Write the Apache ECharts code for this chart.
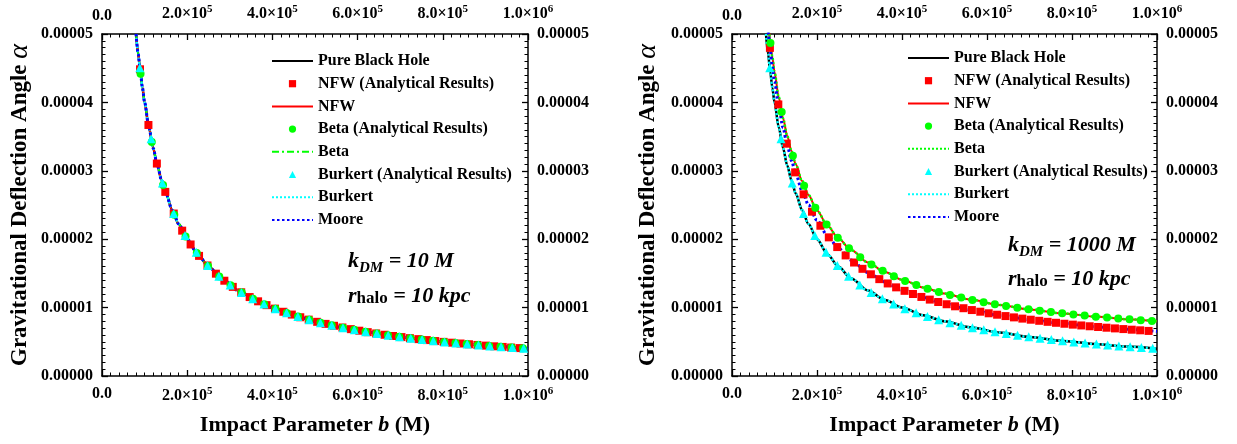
<!DOCTYPE html>
<html>
<head>
<meta charset="utf-8">
<script src="https://cdn.jsdelivr.net/npm/echarts@6/dist/echarts.min.js"></script>
<style>
  html, body { margin: 0; padding: 0; background: #ffffff; }
  #chart { width: 1237px; height: 444px; }
</style>
</head>
<body>
<div id="chart"></div>
<script>
// Impact parameter b (in units of M) sampled for the smooth curves
const bCurve = [80000, 85000, 90000, 95000, 100000, 110000, 120000, 130000, 140000, 150000,
  165000, 180000, 200000, 225000, 250000, 280000, 320000, 360000, 400000, 450000,
  500000, 560000, 630000, 700000, 780000, 860000, 930000, 1000000];

// Pure black hole deflection (also Burkert, and every halo at k_DM = 10 M)
const alphaBH = [5.000e-5, 4.706e-5, 4.444e-5, 4.211e-5, 4.000e-5, 3.636e-5, 3.333e-5, 3.077e-5, 2.857e-5, 2.667e-5,
  2.424e-5, 2.222e-5, 2.000e-5, 1.778e-5, 1.600e-5, 1.429e-5, 1.250e-5, 1.111e-5, 1.000e-5, 0.889e-5,
  0.800e-5, 0.714e-5, 0.635e-5, 0.571e-5, 0.513e-5, 0.465e-5, 0.430e-5, 0.400e-5];

// k_DM = 1000 M: NFW and Beta curves
const nfwBetaCurve1000 = [5.458e-5, 5.160e-5, 4.895e-5, 4.658e-5, 4.445e-5, 4.077e-5, 3.770e-5, 3.510e-5, 3.288e-5, 3.095e-5,
  2.850e-5, 2.645e-5, 2.420e-5, 2.195e-5, 2.015e-5, 1.841e-5, 1.661e-5, 1.520e-5, 1.408e-5, 1.295e-5,
  1.205e-5, 1.118e-5, 1.038e-5, 0.974e-5, 0.914e-5, 0.866e-5, 0.830e-5, 0.800e-5];

// k_DM = 1000 M: Moore curve
const mooreCurve1000 = [5.320e-5, 5.021e-5, 4.756e-5, 4.519e-5, 4.305e-5, 3.936e-5, 3.628e-5, 3.368e-5, 3.145e-5, 2.952e-5,
  2.706e-5, 2.501e-5, 2.275e-5, 2.049e-5, 1.869e-5, 1.695e-5, 1.514e-5, 1.373e-5, 1.260e-5, 1.147e-5,
  1.057e-5, 0.970e-5, 0.889e-5, 0.825e-5, 0.766e-5, 0.717e-5, 0.682e-5, 0.651e-5];

// Analytical NFW points
const bSquares = [89200, 109000, 128800, 148600, 168400, 188200, 208000, 227800, 247600, 267400,
  287200, 307000, 326800, 346600, 366400, 386200, 406000, 425800, 445600, 465400,
  485200, 505000, 524800, 544600, 564400, 584200, 604000, 623800, 643600, 663400,
  683200, 703000, 722800, 742600, 762400, 782200, 802000, 821800, 841600, 861400,
  881200, 901000, 920800, 940600, 960400, 980200];
const nfwPts10 = [4.484e-5, 3.670e-5, 3.106e-5, 2.692e-5, 2.375e-5, 2.125e-5, 1.923e-5, 1.756e-5, 1.616e-5, 1.496e-5,
  1.393e-5, 1.303e-5, 1.224e-5, 1.154e-5, 1.092e-5, 1.036e-5, 0.985e-5, 0.939e-5, 0.898e-5, 0.859e-5,
  0.824e-5, 0.792e-5, 0.762e-5, 0.734e-5, 0.709e-5, 0.685e-5, 0.662e-5, 0.641e-5, 0.622e-5, 0.603e-5,
  0.585e-5, 0.569e-5, 0.553e-5, 0.539e-5, 0.525e-5, 0.511e-5, 0.499e-5, 0.487e-5, 0.475e-5, 0.464e-5,
  0.454e-5, 0.444e-5, 0.434e-5, 0.425e-5, 0.416e-5, 0.408e-5];
const nfwPts1000 = [4.797e-5, 3.970e-5, 3.397e-5, 2.977e-5, 2.656e-5, 2.402e-5, 2.197e-5, 2.027e-5, 1.885e-5, 1.763e-5,
  1.659e-5, 1.567e-5, 1.487e-5, 1.416e-5, 1.353e-5, 1.296e-5, 1.245e-5, 1.199e-5, 1.156e-5, 1.117e-5,
  1.082e-5, 1.049e-5, 1.019e-5, 0.991e-5, 0.964e-5, 0.940e-5, 0.917e-5, 0.896e-5, 0.876e-5, 0.857e-5,
  0.839e-5, 0.823e-5, 0.807e-5, 0.792e-5, 0.778e-5, 0.764e-5, 0.751e-5, 0.739e-5, 0.727e-5, 0.716e-5,
  0.706e-5, 0.696e-5, 0.686e-5, 0.677e-5, 0.668e-5, 0.659e-5];

// Analytical Beta points
const bCircles = [90500, 116900, 143300, 169700, 196100, 222500, 248900, 275300, 301700, 328100,
  354500, 380900, 407300, 433700, 460100, 486500, 512900, 539300, 565700, 592100,
  618500, 644900, 671300, 697700, 724100, 750500, 776900, 803300, 829700, 856100,
  882500, 908900, 935300, 961700, 988100];
const betaPts10 = [4.420e-5, 3.422e-5, 2.791e-5, 2.357e-5, 2.040e-5, 1.798e-5, 1.607e-5, 1.453e-5, 1.326e-5, 1.219e-5,
  1.128e-5, 1.050e-5, 0.982e-5, 0.922e-5, 0.869e-5, 0.822e-5, 0.780e-5, 0.742e-5, 0.707e-5, 0.676e-5,
  0.647e-5, 0.620e-5, 0.596e-5, 0.573e-5, 0.552e-5, 0.533e-5, 0.515e-5, 0.498e-5, 0.482e-5, 0.467e-5,
  0.453e-5, 0.440e-5, 0.428e-5, 0.416e-5, 0.405e-5];
const betaPts1000 = [4.870e-5, 3.859e-5, 3.221e-5, 2.782e-5, 2.460e-5, 2.215e-5, 2.022e-5, 1.866e-5, 1.737e-5, 1.629e-5,
  1.537e-5, 1.458e-5, 1.389e-5, 1.329e-5, 1.275e-5, 1.227e-5, 1.185e-5, 1.146e-5, 1.111e-5, 1.079e-5,
  1.050e-5, 1.023e-5, 0.998e-5, 0.975e-5, 0.954e-5, 0.935e-5, 0.916e-5, 0.899e-5, 0.883e-5, 0.868e-5,
  0.854e-5, 0.841e-5, 0.828e-5, 0.816e-5, 0.805e-5];

// Analytical Burkert points (same in both panels)
const bTriangles = [88800, 115300, 141800, 168300, 194800, 221300, 247800, 274300, 300800, 327300,
  353800, 380300, 406800, 433300, 459800, 486300, 512800, 539300, 565800, 592300,
  618800, 645300, 671800, 698300, 724800, 751300, 777800, 804300, 830800, 857300,
  883800, 910300, 936800, 963300, 989800];
const burkertPts = [4.505e-5, 3.469e-5, 2.821e-5, 2.377e-5, 2.053e-5, 1.808e-5, 1.614e-5, 1.458e-5, 1.330e-5, 1.222e-5,
  1.131e-5, 1.052e-5, 0.983e-5, 0.923e-5, 0.870e-5, 0.823e-5, 0.780e-5, 0.742e-5, 0.707e-5, 0.675e-5,
  0.646e-5, 0.620e-5, 0.595e-5, 0.573e-5, 0.552e-5, 0.532e-5, 0.514e-5, 0.497e-5, 0.481e-5, 0.467e-5,
  0.453e-5, 0.439e-5, 0.427e-5, 0.415e-5, 0.404e-5];

// Axis ticks
const xTicks = { min: 0, max: 1000000, interval: 200000 };
const yTicks = { min: 0, max: 0.00005, interval: 0.00001 };

const SERIF = 'Liberation Serif';
const RED = '#ff0000', GREEN = '#00ff00', CYAN = '#00ffff', BLUE = '#0000ff';

const zip = (xs, ys) => xs.map((x, i) => [x, ys[i]]);

function sciLabel(v) {
  if (v === 0) return '{m|0.0}';
  const e = Math.floor(Math.log10(v) + 1e-9);
  const m = v / Math.pow(10, e);
  return '{m|' + m.toFixed(1) + '\u00d710}{s|' + e + '}';
}
const sciRich = {
  m: { fontFamily: SERIF, fontWeight: 'bold', fontSize: 16, color: '#000' },
  s: { fontFamily: SERIF, fontWeight: 'bold', fontSize: 11, color: '#000', padding: [0, 0, 9, 0] }
};

const axisLineStyle = { show: true, onZero: false, lineStyle: { color: '#000', width: 1.5 } };
const tickStyle = { show: true, inside: true, length: 6, lineStyle: { color: '#000', width: 1.3 } };
const minorStyle = { show: true, splitNumber: 10, length: 3.5, lineStyle: { color: '#000', width: 1 } };

function xAxis(grid, pos) {
  const a = {
    type: 'value', gridIndex: grid, position: pos,
    min: xTicks.min, max: xTicks.max, interval: xTicks.interval,
    axisLine: axisLineStyle, axisTick: tickStyle, minorTick: minorStyle,
    splitLine: { show: false },
    axisLabel: { margin: 10, formatter: sciLabel, rich: sciRich }
  };
  if (pos === 'bottom') {
    a.name = '{n|Impact Parameter }{i|b}{n| (M)}';
    a.nameLocation = 'middle';
    a.nameGap = 38;
    a.nameTextStyle = {
      rich: {
        n: { fontFamily: SERIF, fontWeight: 'bold', fontSize: 22, color: '#000' },
        i: { fontFamily: SERIF, fontWeight: 'bold', fontStyle: 'italic', fontSize: 22, color: '#000' }
      }
    };
  }
  return a;
}

function yAxis(grid, pos, nameGap) {
  const a = {
    type: 'value', gridIndex: grid, position: pos,
    min: yTicks.min, max: yTicks.max, interval: yTicks.interval,
    axisLine: axisLineStyle, axisTick: tickStyle, minorTick: minorStyle,
    splitLine: { show: false },
    axisLabel: {
      margin: 9, fontFamily: SERIF, fontWeight: 'bold', fontSize: 16, color: '#000',
      formatter: v => v.toFixed(5)
    }
  };
  if (pos === 'left') {
    a.name = '{n|Gravitational Deflection Angle }{g|\u03b1}';
    a.nameLocation = 'middle';
    a.nameGap = nameGap;
    a.nameRotate = 90;
    a.nameTextStyle = {
      rich: {
        n: { fontFamily: SERIF, fontWeight: 'bold', fontSize: 23, color: '#000' },
        g: { fontFamily: SERIF, fontStyle: 'italic', fontSize: 28, color: '#000' }
      }
    };
  }
  return a;
}

function curve(name, grid, ys, color, width, dash) {
  return {
    type: 'line', name: name, xAxisIndex: grid * 2, yAxisIndex: grid * 2,
    data: zip(bCurve, ys), symbol: 'none', smooth: 0.3, smoothMonotone: 'x',
    lineStyle: { color: color, width: width, type: dash },
    itemStyle: { color: color }, clip: true, animation: false
  };
}

function points(name, grid, xs, ys, symbol, size, color) {
  return {
    type: 'line', name: name, xAxisIndex: grid * 2, yAxisIndex: grid * 2,
    data: zip(xs, ys), symbol: symbol, symbolSize: size, showSymbol: true, showAllSymbol: true,
    lineStyle: { width: 0, opacity: 0 },
    itemStyle: { color: color, opacity: 1 }, clip: true, animation: false
  };
}

const names = ['Pure Black Hole', 'NFW (Analytical Results)', 'NFW', 'Beta (Analytical Results)',
  'Beta', 'Burkert (Analytical Results)', 'Burkert', 'Moore'];
const isPointSet = n => n.indexOf('Analytical') >= 0;
const tag = (n, g) => n + '@' + g;

const series = [
  // k_DM = 10 M
  curve(tag(names[0], 0), 0, alphaBH, '#000', 2.5, 'solid'),
  points(tag(names[1], 0), 0, bSquares, nfwPts10, 'rect', 8, RED),
  curve(tag(names[2], 0), 0, alphaBH, RED, 2, 'solid'),
  points(tag(names[3], 0), 0, bCircles, betaPts10, 'circle', 8, GREEN),
  curve(tag(names[4], 0), 0, alphaBH, GREEN, 2, [7, 3, 2, 3]),
  points(tag(names[5], 0), 0, bTriangles, burkertPts, 'triangle', 9, CYAN),
  curve(tag(names[6], 0), 0, alphaBH, CYAN, 2.5, [2, 2]),
  curve(tag(names[7], 0), 0, alphaBH, BLUE, 3, [2.5, 2.5]),
  // k_DM = 1000 M
  curve(tag(names[0], 1), 1, alphaBH, '#000', 2.5, 'solid'),
  points(tag(names[1], 1), 1, bSquares, nfwPts1000, 'rect', 8, RED),
  curve(tag(names[2], 1), 1, nfwBetaCurve1000, RED, 2, 'solid'),
  points(tag(names[3], 1), 1, bCircles, betaPts1000, 'circle', 8, GREEN),
  curve(tag(names[4], 1), 1, nfwBetaCurve1000, GREEN, 2.5, [2, 2]),
  points(tag(names[5], 1), 1, bTriangles, burkertPts, 'triangle', 9, CYAN),
  curve(tag(names[6], 1), 1, alphaBH, CYAN, 2.5, [2, 2]),
  curve(tag(names[7], 1), 1, mooreCurve1000, BLUE, 3, [2.5, 2.5])
];

function legend(g, left, top, textGap) {
  return {
    orient: 'vertical', left: left, top: top,
    // curve entries show only their line sample, point entries only their marker
    data: names.map(n => isPointSet(n)
      ? { name: tag(n, g) }
      : { name: tag(n, g), itemStyle: { opacity: 0 } }),
    formatter: n => n.split('@')[0],
    itemWidth: 41, itemHeight: 9, itemGap: 6.7, itemTextGap: textGap,
    selectedMode: false,
    textStyle: { fontFamily: SERIF, fontWeight: 'bold', fontSize: 16, color: '#000' }
  };
}

function annotation(x, yk, yr, kValue) {
  const main = { fontFamily: SERIF, fontWeight: 'bold', fontStyle: 'italic', fontSize: 22, fill: '#000' };
  return [
    {
      type: 'text', x: x, y: yk,
      style: {
        text: '{k|k}{d|DM}{k| = ' + kValue + ' M}',
        verticalAlign: 'middle', align: 'left',
        rich: {
          k: main,
          d: { fontFamily: SERIF, fontWeight: 'bold', fontStyle: 'italic', fontSize: 15, fill: '#000', padding: [14, 0, 0, 0] }
        }
      }
    },
    {
      type: 'text', x: x, y: yr,
      style: {
        text: '{k|r}{h|halo}{k| = 10 kpc}',
        verticalAlign: 'middle', align: 'left',
        rich: {
          k: main,
          h: { fontFamily: SERIF, fontWeight: 'bold', fontSize: 17, fill: '#000', padding: [6, 0, 0, 0] }
        }
      }
    }
  ];
}

const chart = echarts.init(document.getElementById('chart'), null, { renderer: 'canvas' });
chart.setOption({
  backgroundColor: '#ffffff',
  animation: false,
  grid: [
    { left: 102, right: 709, top: 34, bottom: 68 },
    { left: 732, right: 80, top: 34, bottom: 68 }
  ],
  xAxis: [xAxis(0, 'bottom'), xAxis(0, 'top'), xAxis(1, 'bottom'), xAxis(1, 'top')],
  yAxis: [yAxis(0, 'left', 68), yAxis(0, 'right'), yAxis(1, 'left', 70), yAxis(1, 'right')],
  legend: [legend(0, 266, 48, 5), legend(1, 902, 45, 4)],
  graphic: [].concat(annotation(348, 261, 296, '10'), annotation(1008, 245, 279, '1000')),
  series: series
});
</script>
</body>
</html>
